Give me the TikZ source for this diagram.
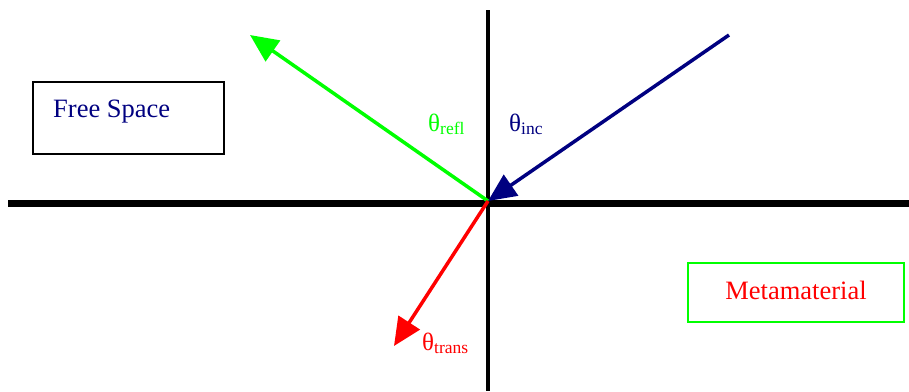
\documentclass[tikz,border=0pt]{standalone}
\usepackage{fontspec}
\setmainfont{Liberation Serif}
\usetikzlibrary{arrows.meta}
\definecolor{navy}{RGB}{0,0,128}
\definecolor{lime}{RGB}{0,255,0}
\definecolor{pure}{RGB}{255,0,0}
\begin{document}
\begin{tikzpicture}[x=1pt,y=-1pt,
  ray/.style={line width=3.5pt,-{Triangle[length=28pt,width=25pt]}},
  lbl/.style={font=\fontsize{25}{28}\selectfont,inner sep=0pt},
  boxlbl/.style={font=\fontsize{26.5}{30}\selectfont,inner sep=0pt}]
\useasboundingbox (0,0) rectangle (909,391);
\coordinate (O) at (488,201);
\coordinate (L) at (8,203);
\coordinate (R) at (909,203);
\coordinate (T) at (488,10);
\coordinate (B) at (488,391);
\coordinate (incs) at (729,35);
\coordinate (refe) at (250,35);
\coordinate (trae) at (394,346);
\draw[line width=4pt] (T) -- (B);
\draw[line width=7pt] (L) -- (R);
\draw[ray,navy] (incs) -- (O);
\draw[ray,lime] (O) -- (refe);
\draw[ray,pure] (O) -- (trae);
\node[lbl,lime,anchor=base west] (tr) at (428,131) {θ\textsubscript{refl}};
\node[lbl,navy,anchor=base west] (ti) at (509,131) {θ\textsubscript{inc}};
\node[lbl,pure,anchor=base west] (tt) at (422,350) {θ\textsubscript{trans}};
\draw[line width=2pt] (33,82) rectangle (224,154);
\node[boxlbl,navy,anchor=base west] (fs) at (53,117) {Free Space};
\draw[line width=2pt,lime] (688,263) rectangle (904,322);
\node[boxlbl,pure] (mm) at (796,290) {Metamaterial};
\end{tikzpicture}
\end{document}
